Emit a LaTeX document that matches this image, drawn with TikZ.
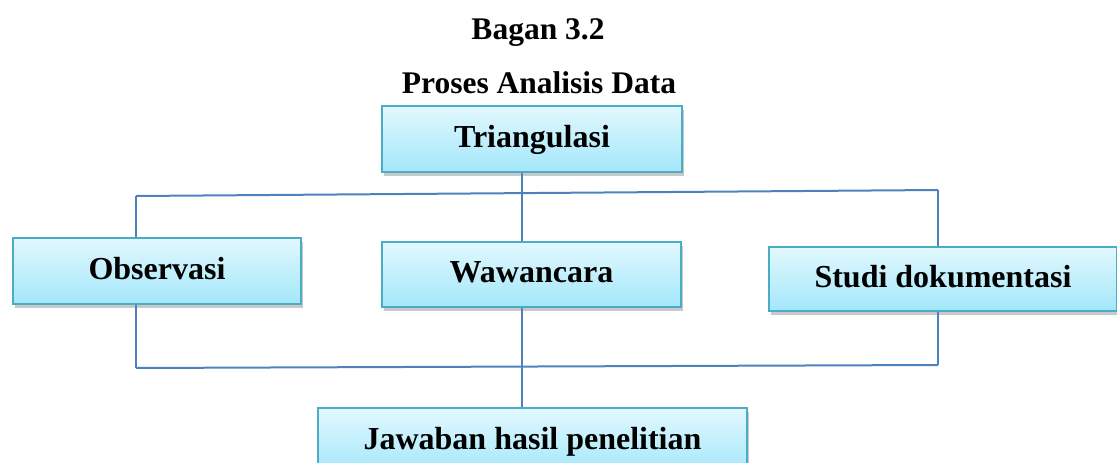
\documentclass[tikz,border=0pt]{standalone}
\usepackage{fontspec}
\setmainfont{Liberation Serif}
\usetikzlibrary{shadows}
\definecolor{boxtop}{HTML}{E2F8FE}
\definecolor{boxbot}{HTML}{A3E7FA}
\definecolor{boxline}{HTML}{4BACC6}
\definecolor{conn}{HTML}{4F81BD}
\tikzset{
  chartbox/.style={rectangle, draw=boxline, line width=1.5pt, top color=boxtop, bottom color=boxbot,
    drop shadow={shadow xshift=2pt, shadow yshift=-4pt, opacity=0.3, fill=black!70},
    font=\fontsize{32}{38}\selectfont\bfseries, text height=22pt, text depth=6pt, inner sep=0pt},
  titletext/.style={font=\fontsize{31.5}{38}\selectfont\bfseries, anchor=base, inner sep=0pt},
  connline/.style={draw=conn, line width=2pt}
}
\begin{document}
\begin{tikzpicture}[x=1pt,y=-1pt]
\useasboundingbox (0,0) rectangle (1117,463);
\clip (0,0) rectangle (1117,463);
\node[titletext] (t1) at (538,39) {Bagan 3.2};
\node[titletext] (t2) at (539,93) {Proses Analisis Data};
\node[chartbox, minimum width=300pt, minimum height=66pt] (tri) at (532,139) {Triangulasi};
\node[chartbox, minimum width=288pt, minimum height=66pt] (obs) at (157,271) {Observasi};
\node[chartbox, minimum width=299pt, minimum height=65pt] (waw) at (531.5,274.5) {Wawancara};
\node[chartbox, minimum width=348pt, minimum height=64pt] (stu) at (943,279) {Studi dokumentasi};
\node[chartbox, minimum width=429pt, minimum height=66pt] (jaw) at (532.5,441) {Jawaban hasil penelitian};
% top connectors
\coordinate (mx) at (522,0);
\coordinate (tl) at (136,196);
\coordinate (tr) at (938,190);
\draw[connline] (tl) -- (tr);
\draw[connline] (tl) -- (tl |- obs.north);
\draw[connline] (tr) -- (tr |- stu.north);
\draw[connline] (mx |- tri.south) -- (mx |- waw.north);
% bottom connectors
\coordinate (bl) at (136,368);
\coordinate (br) at (938,365);
\draw[connline] (bl) -- (br);
\draw[connline] (bl |- obs.south) -- (bl);
\draw[connline] (br |- stu.south) -- (br);
\draw[connline] (mx |- waw.south) -- (mx |- jaw.north);
\end{tikzpicture}
\end{document}
